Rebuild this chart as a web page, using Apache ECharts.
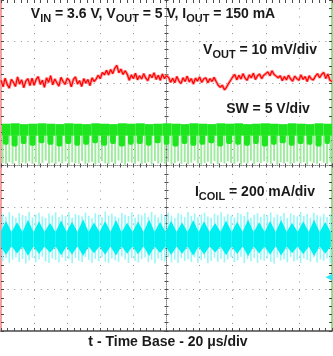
<!DOCTYPE html>
<html><head><meta charset="utf-8">
<script src="https://cdn.jsdelivr.net/npm/echarts@6/dist/echarts.min.js"></script>
<style>html,body{margin:0;padding:0;background:#fff}#c{width:333px;height:356px}</style>
</head><body><div id="c"></div>
<script>
// ---------- data ----------
const timeRange = [0, 200];          // µs, 20 µs/div
const timePerDiv = 20;
const divRange = [0, 8];             // vertical divisions

// channel reference levels (divisions from bottom)
const voutRef = 6, swRef = 4, coilRef = 1.3;

// VOUT ripple, mV (10 mV/div), one sample every 1.25 µs
const voutStep = 1.25;
const voutRipple = [
  0.6,-1.0,1.1,-0.4,-1.3,0.8,0.1,-0.9,1.4,-0.3,0.7,-1.2,0.4,1.0,-0.7,
  1.1,-0.6,0.8,1.5,-0.4,0.6,-1.1,1.2,0.1,1.7,-0.5,0.9,0.0,-0.8,1.3,0.3,
  -0.4,1.1,0.6,-1.0,0.8,1.4,-0.3,0.5,-0.9,1.0,-0.1,0.8,-0.7,1.2,0.3,
  0.9,1.8,1.0,2.5,1.9,
  3.0,1.9,3.2,2.2,3.5,4.2,2.4,3.3,2.0,2.9,
  2.1,0.6,1.9,1.0,2.3,0.7,1.7,0.9,2.2,1.1,0.5,2.0,1.2,2.4,0.8,1.8,0.6,2.1,1.0,1.7,
  1.3,0.1,1.1,0.0,1.5,0.4,-0.2,1.2,0.3,1.6,0.2,1.0,-0.3,1.1,0.4,1.4,0.1,0.9,1.2,0.0,1.0,0.3,1.3,
  0.3,-0.6,-1.1,-0.6,-1.7,-1.1,-0.2,0.6,
  1.4,2.0,0.7,1.8,0.9,2.2,1.1,0.6,1.9,1.2,2.3,0.8,1.7,2.1,1.0,1.8,2.2,
  2.6,1.7,2.9,2.0,1.6,
  1.2,1.7,0.5,1.5,0.7,1.8,0.9,0.4,1.6,1.0,0.6,1.9,0.8,1.5,0.3,1.7,0.9,0.7,1.6,
  2.2,1.2,2.0,2.5,1.0,2.1,0.6,0.3
];

// SW node, V (5 V/div): switching pulses
const swPulseTimes = [0.5,5.8,11.3,16.6,22.1,27.4,32.9,38.2,43.7,49.0,54.5,59.8,65.3,70.6,76.1,81.4,86.9,92.2,97.7,103.0,
  108.5,113.8,119.3,124.6,130.1,135.4,140.9,146.2,151.7,157.0,162.5,167.8,173.3,178.6,184.1,189.4,194.9];
const swPulseTop = [5.05,5.1,5.0,5.05,5.1,5.05,5.0,5.1,5.05,5.0, 5.1,5.05,5.0,5.1,5.05,5.1,5.0,5.05,5.1,5.05,
  5.0,5.1,5.05,5.0,5.1,5.05,5.1,5.0,5.05,5.1, 5.05,5.0,5.1,5.05,5.0,5.1,5.05];
const swPulseFoot = [2.5,2.3,2.6,2.4,2.7,2.5,2.3,2.6,2.4,2.5, 2.7,2.4,2.6,2.3,2.5,2.6,2.4,2.7,2.5,2.3,
  2.6,2.4,2.5,2.7,2.3,2.6,2.5,2.4,2.6,2.3, 2.5,2.7,2.4,2.6,2.5,2.3,2.6];
const swShelf = 3.6;
// SW ringing lows, V, one every 2 µs
const swRingStep = 2;
const swRingLow = [
  0.3,0.15,0.45,0.2,0.55,0.1,0.35,0.25,0.5,0.2,
  0.4,0.1,0.3,0.6,0.2,0.35,0.15,0.45,0.25,0.5,
  0.1,0.4,0.3,0.2,0.55,0.15,0.35,0.45,0.1,0.3,
  0.5,0.25,0.2,0.4,0.15,0.6,0.3,0.1,0.45,0.35,
  0.2,0.5,0.15,0.3,0.4,0.1,0.55,0.25,0.35,0.2,
  0.45,0.1,0.3,0.5,0.2,0.4,0.15,0.35,0.6,0.25,
  0.1,0.3,0.45,0.2,0.55,0.15,0.4,0.25,0.5,0.3,
  0.2,0.45,0.1,0.35,0.25,0.6,0.15,0.4,0.3,0.5,
  0.35,0.2,0.55,0.1,0.4,0.25,0.45,0.15,0.3,0.5,
  0.25,0.4,0.1,0.5,0.3,0.2,0.55,0.35,0.15,0.45
];

// ICOIL, mA (200 mA/div)
const coilTimes = [3.0,9.7,16.3,23.0,29.6,36.3,42.9,49.6,56.2,62.9,69.5,76.2,82.8,89.5,96.1,102.8,109.4,116.1,122.7,129.4,
  136.0,142.7,149.3,156.0,162.6,169.3,175.9,182.6,189.2,195.9];
const coilPeak = [272,266,278,270,262,275,268,280,264,271,276,263,269,279,267,273,265,277,270,262,
  274,268,279,266,272,276,263,270,278,267];
const coilValley = [108,115,104,112,118,106,110,102,116,109,105,114,111,103,117,107,113,104,110,119,
  106,112,101,115,108,105,116,111,103,114];
const coilBand = [218, 150];
const coilSpikeStep = 2;
const coilSpikeTop = [
  305,292,314,298,287,310,301,295,316,289, 303,311,294,286,308,299,313,291,302,296,
  315,288,306,300,293,312,297,285,309,304, 290,317,298,307,293,288,311,302,296,314,
  287,305,299,310,292,316,301,289,306,295, 313,298,286,309,303,291,315,297,308,290,
  302,312,294,288,307,300,314,293,305,298, 289,311,304,296,316,287,301,309,292,306,
  299,313,290,303,295,310,286,308,301,294, 315,297,305,288,312,300,293,307,291,304
];
const coilSpikeBot = [
  78,92,70,85,97,74,88,66,81,94, 72,86,99,76,69,90,83,71,95,79,
  87,67,93,80,73,98,84,70,89,77, 96,75,68,91,82,74,100,86,69,93,
  79,71,88,95,73,84,66,90,81,76, 98,72,85,69,92,78,87,74,96,70,
  83,91,67,80,94,75,89,71,86,97, 73,82,99,68,88,77,93,70,85,79,
  91,74,66,95,81,87,72,98,76,84, 69,90,83,75,97,71,86,80,92,67
];

// ---------- chart ----------
const toV = mv => voutRef + mv / 10;
const toS = v => swRef + v / 5;
const toI = ma => coilRef + ma / 200;

const FONT = '"Liberation Sans", Arial, sans-serif';
const TXT = '#1a1a1a';
const DOT = '#8c8c8c';
const TICK = '#4a4a4a';
const GREEN = '#1ee61e', GREEN_L = '#9eea9e';
const CYAN = '#00f0f2', CYAN_L = '#98f6f8';
const COIL_HALF = 3.35;

const voutData = voutRipple.map((v, i) => [i * voutStep, toV(v)]);
const swBlocks = swPulseTimes.map((t, i) => [t, toS(swPulseTop[i]), toS(swPulseFoot[i]),
  i + 1 < swPulseTimes.length ? swPulseTimes[i + 1] : timeRange[1], toS(swShelf)]);
const swRings = swRingLow.map((v, i) => [1 + i * swRingStep, toS(swShelf), toS(v)]);
const coilDiamonds = coilTimes.map((t, i) => [t, toI(coilPeak[i]), toI(coilValley[i]), toI(coilBand[0]), toI(coilBand[1])]);
const coilSpikes = coilSpikeTop.map((v, i) => [1 + i * coilSpikeStep, toI(v), toI(coilSpikeBot[i])]);

const rich = {
  b: {fontFamily: FONT, fontWeight: 'bold', fontSize: 14, lineHeight: 14, verticalAlign: 'top', color: TXT},
  s: {fontFamily: FONT, fontWeight: 'bold', fontSize: 11, lineHeight: 17, verticalAlign: 'bottom', color: TXT}
};
function label(text, x, y) {
  return {type: 'text', x: x, y: y, silent: true, z: 100,
    style: {text: text, rich: rich, fill: TXT, font: 'bold 14px ' + FONT,
      align: 'center', textAlign: 'center', verticalAlign: 'top', textVerticalAlign: 'top'}};
}

function xAxisBase(extra) {
  return Object.assign({type: 'value', min: timeRange[0], max: timeRange[1], interval: timePerDiv,
    axisLabel: {show: false}, splitLine: {show: false},
    axisTick: {show: true, inside: true, length: 3, lineStyle: {color: TICK}},
    minorTick: {show: true, splitNumber: 5, length: 3, lineStyle: {color: TICK}}}, extra);
}
function yAxisBase(extra) {
  return Object.assign({type: 'value', min: divRange[0], max: divRange[1], interval: 1,
    axisLabel: {show: false}, splitLine: {show: false},
    axisTick: {show: true, inside: true, length: 3, lineStyle: {color: TICK}},
    minorTick: {show: true, splitNumber: 5, length: 3, lineStyle: {color: TICK}}}, extra);
}

const chart = echarts.init(document.getElementById('c'), null, {renderer: 'canvas'});
chart.setOption({
  animation: false,
  backgroundColor: '#fff',
  grid: {left: 1, top: 0, right: 1, bottom: 25, outerBoundsMode: 'none', containLabel: false},
  xAxis: [
    xAxisBase({position: 'bottom', axisLine: {onZero: false, lineStyle: {color: TICK, width: 1.5}},
      splitLine: {show: true, showMinLine: false, showMaxLine: false, lineStyle: {color: DOT, width: 1, type: [1, 7.28]}}}),
    xAxisBase({position: 'top', axisLine: {show: false, onZero: false}}),
    xAxisBase({min: -timeRange[1] / 2, max: timeRange[1] / 2, position: 'bottom',
      axisLine: {onZero: true, onZeroAxisIndex: 2, lineStyle: {color: '#888', width: 1, type: [1, 1]}},
      axisTick: {show: true, inside: true, length: 2, lineStyle: {color: TICK}},
      minorTick: {show: true, splitNumber: 5, length: 2, lineStyle: {color: TICK}}}),
    xAxisBase({min: -timeRange[1] / 2, max: timeRange[1] / 2, position: 'bottom',
      axisLine: {onZero: true, onZeroAxisIndex: 2, lineStyle: {color: '#888', opacity: 0}},
      axisTick: {show: true, inside: false, length: 2, lineStyle: {color: TICK}},
      minorTick: {show: true, splitNumber: 5, length: 2, lineStyle: {color: TICK}}})
  ],
  yAxis: [
    yAxisBase({position: 'left', axisLine: {onZero: false, lineStyle: {color: '#f3a3a3', width: 2}},
      splitLine: {show: true, showMinLine: false, showMaxLine: false, lineStyle: {color: DOT, width: 1, type: [1, 5.62]}}}),
    yAxisBase({position: 'right', axisLine: {onZero: false, lineStyle: {color: '#8fe08f', width: 2}}}),
    yAxisBase({min: -divRange[1] / 2, max: divRange[1] / 2, position: 'left',
      axisLine: {onZero: true, onZeroAxisIndex: 2, lineStyle: {color: '#888', width: 1, type: [1, 1]}},
      axisTick: {show: true, inside: true, length: 2, lineStyle: {color: TICK}},
      minorTick: {show: true, splitNumber: 5, length: 2, lineStyle: {color: TICK}}}),
    yAxisBase({min: -divRange[1] / 2, max: divRange[1] / 2, position: 'left',
      axisLine: {onZero: true, onZeroAxisIndex: 2, lineStyle: {color: '#888', opacity: 0}},
      axisTick: {show: true, inside: false, length: 2, lineStyle: {color: TICK}},
      minorTick: {show: true, splitNumber: 5, length: 2, lineStyle: {color: TICK}}})
  ],
  series: [
    {type: 'custom', name: 'SW ringing', xAxisIndex: 0, yAxisIndex: 0, clip: true, z: 2, silent: true,
      data: swRings,
      renderItem: function (params, api) {
        const a = api.coord([api.value(0), api.value(1)]);
        const b = api.coord([api.value(0), api.value(2)]);
        return {type: 'line', shape: {x1: a[0], y1: a[1], x2: b[0], y2: b[1]},
          style: {stroke: GREEN_L, lineWidth: 1.9}};
      }},
    {type: 'custom', name: 'SW', xAxisIndex: 0, yAxisIndex: 0, clip: true, z: 3, silent: true,
      data: swBlocks,
      renderItem: function (params, api) {
        const p0 = api.coord([api.value(0), api.value(1)]);
        const p1 = api.coord([api.value(3), api.value(4)]);
        const pf = api.coord([api.value(0), api.value(2)]);
        const w = p1[0] - p0[0];
        return {type: 'group', children: [
          {type: 'rect', shape: {x: p0[0], y: p0[1], width: w, height: p1[1] - p0[1]}, style: {fill: GREEN}},
          {type: 'rect', shape: {x: p0[0] + 1, y: p1[1] - 0.5, width: Math.max(1, w - 3), height: pf[1] - p1[1] + 0.5, r: [0, 0, 2, 2]},
            style: {fill: GREEN}}
        ]};
      }},
    {type: 'custom', name: 'ICOIL spikes', xAxisIndex: 0, yAxisIndex: 0, clip: true, z: 2, silent: true,
      data: coilSpikes,
      renderItem: function (params, api) {
        const a = api.coord([api.value(0), api.value(1)]);
        const b = api.coord([api.value(0), api.value(2)]);
        return {type: 'line', shape: {x1: a[0], y1: a[1], x2: b[0], y2: b[1]},
          style: {stroke: CYAN_L, lineWidth: 1.6}};
      },
      markPoint: {silent: true, label: {show: false},
        data: [{coord: [timeRange[1], coilRef], symbol: 'triangle', symbolSize: [7, 7], symbolRotate: 90,
          symbolOffset: [-3, 0], itemStyle: {color: '#30e8f0'}}]}},
    {type: 'custom', name: 'ICOIL', xAxisIndex: 0, yAxisIndex: 0, clip: true, z: 3, silent: true,
      data: coilDiamonds,
      renderItem: function (params, api) {
        const t = api.value(0);
        const pts = [
          api.coord([t - COIL_HALF, api.value(3)]), api.coord([t, api.value(1)]), api.coord([t + COIL_HALF, api.value(3)]),
          api.coord([t + COIL_HALF, api.value(4)]), api.coord([t, api.value(2)]), api.coord([t - COIL_HALF, api.value(4)])
        ];
        return {type: 'polygon', shape: {points: pts}, style: {fill: CYAN}};
      }},
    {type: 'line', name: 'VOUT halo', xAxisIndex: 0, yAxisIndex: 0, data: voutData, showSymbol: false, silent: true, z: 4,
      lineStyle: {color: '#ff9a9a', width: 3}},
    {type: 'line', name: 'VOUT', xAxisIndex: 0, yAxisIndex: 0, data: voutData, showSymbol: false, silent: true, z: 5,
      lineStyle: {color: '#ff0000', width: 1.2}}
  ],
  graphic: [
    label('{b|V}{s|IN}{b| = 3.6 V, V}{s|OUT}{b| = 5 V, I}{s|OUT}{b| = 150 mA}', 153, 7),
    label('{b|V}{s|OUT}{b| = 10 mV/div}', 260, 43),
    label('{b|SW = 5 V/div}', 268, 102),
    label('{b|I}{s|COIL}{b| = 200 mA/div}', 255, 185),
    label('{b|t - Time Base - 20 \u03bcs/div}', 168, 335)
  ]
});
</script></body></html>
